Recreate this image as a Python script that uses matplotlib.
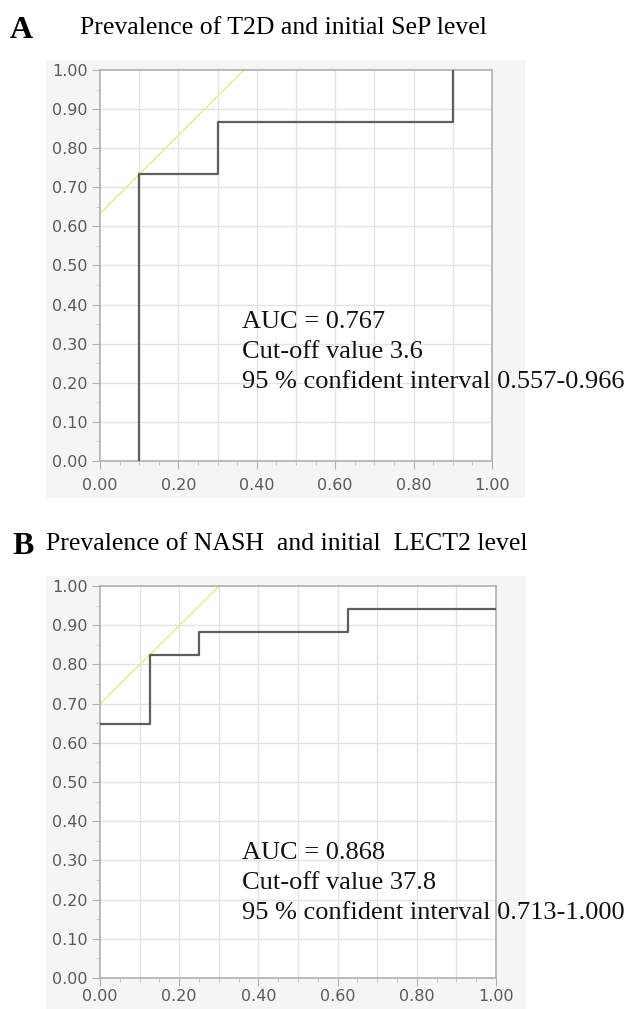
import matplotlib
matplotlib.use("Agg")
import matplotlib.pyplot as plt
import numpy as np

# ROC step data
a_fpr = [0.1, 0.1, 0.3, 0.3, 0.9, 0.9]
a_tpr = [0.0, 0.733, 0.733, 0.867, 0.867, 1.0]
a_tangent_x = [0.0, 0.367]
a_tangent_y = [0.633, 1.0]
a_title = "Prevalence of T2D and initial SeP level"
a_text = ["AUC = 0.767", "Cut-off value 3.6", "95 % confident interval 0.557-0.966"]

b_fpr = [0.0, 0.125, 0.125, 0.25, 0.25, 0.625, 0.625, 1.0]
b_tpr = [0.647, 0.647, 0.824, 0.824, 0.882, 0.882, 0.941, 0.941]
b_tangent_x = [0.0, 0.301]
b_tangent_y = [0.699, 1.0]
b_title = "Prevalence of NASH  and initial  LECT2 level"
b_text = ["AUC = 0.868", "Cut-off value 37.8", "95 % confident interval 0.713-1.000"]

W, H = 626, 1009
fig = plt.figure(figsize=(W / 100, H / 100), dpi=100)
fig.patch.set_facecolor("white")

serif = ["Liberation Serif", "DejaVu Serif"]
tickfont = "DejaVu Sans"


def px_axes(left, top, right, bottom, **kw):
    return fig.add_axes([left / W, 1 - bottom / H, (right - left) / W, (bottom - top) / H], **kw)


def draw_panel(box, bg, fpr, tpr, tx, ty, lines, text_y, xpad):
    # gray backdrop behind the plot
    back = px_axes(*bg, zorder=-1)
    back.set_facecolor("#f5f5f5")
    back.set_xticks([])
    back.set_yticks([])
    for s in back.spines.values():
        s.set_visible(False)

    ax = px_axes(*box, zorder=1)
    ax.set_facecolor("white")
    ax.set_xlim(0, 1)
    ax.set_ylim(0, 1)
    ax.set_xticks(np.arange(0, 1.01, 0.2))
    ax.set_xticks(np.arange(0, 1.01, 0.05), minor=True)
    ax.set_yticks(np.arange(0, 1.01, 0.1))
    ax.set_yticks(np.arange(0, 1.01, 0.05), minor=True)
    ax.set_xticklabels(["%.2f" % v for v in np.arange(0, 1.01, 0.2)])
    ax.set_yticklabels(["%.2f" % v for v in np.arange(0, 1.01, 0.1)])
    for g in np.arange(0.1, 1.0, 0.1):
        ax.axvline(g, color="#e3e3e3", lw=1.0, zorder=1)
        ax.axhline(g, color="#e3e3e3", lw=1.0, zorder=1)
    for s in ax.spines.values():
        s.set_color("#b0b0b0")
        s.set_linewidth(1.2)
    ax.tick_params(which="major", direction="out", length=6, color="#b0b0b0",
                   labelcolor="#5a5a5a", labelsize=11.5, pad=3)
    ax.tick_params(axis="x", which="major", pad=xpad)
    ax.tick_params(which="minor", direction="out", length=3, color="#c0c0c0")
    for lab in ax.get_xticklabels() + ax.get_yticklabels():
        lab.set_fontfamily(tickfont)
    ax.plot(tx, ty, color="#ecec9a", lw=1.2, zorder=2, clip_on=False)
    ax.plot(fpr, tpr, color="#5e5e5e", lw=1.6, zorder=3)
    for i, t in enumerate(lines):
        fig.text(242 / W, 1 - (text_y + 30 * i) / H, t, family=serif, fontsize=19,
                 color="#111111", va="center", ha="left", zorder=5)
    return ax


draw_panel((100, 70, 492, 461), (46, 60, 525, 498), a_fpr, a_tpr,
           a_tangent_x, a_tangent_y, a_text, 322, 6)
draw_panel((100, 586, 496, 978), (46, 576, 526, 1009), b_fpr, b_tpr,
           b_tangent_x, b_tangent_y, b_text, 853, 2)

fig.text(10 / W, 1 - 30 / H, "A", family=serif, fontsize=23, fontweight="bold", va="center")
fig.text(80 / W, 1 - 28 / H, a_title, family=serif, fontsize=18.5, va="center")
fig.text(12 / W, 1 - 546 / H, "B", family=serif, fontsize=23, fontweight="bold", va="center")
fig.text(46 / W, 1 - 544 / H, b_title, family=serif, fontsize=18.5, va="center")

fig.savefig("out.png", dpi=100)
